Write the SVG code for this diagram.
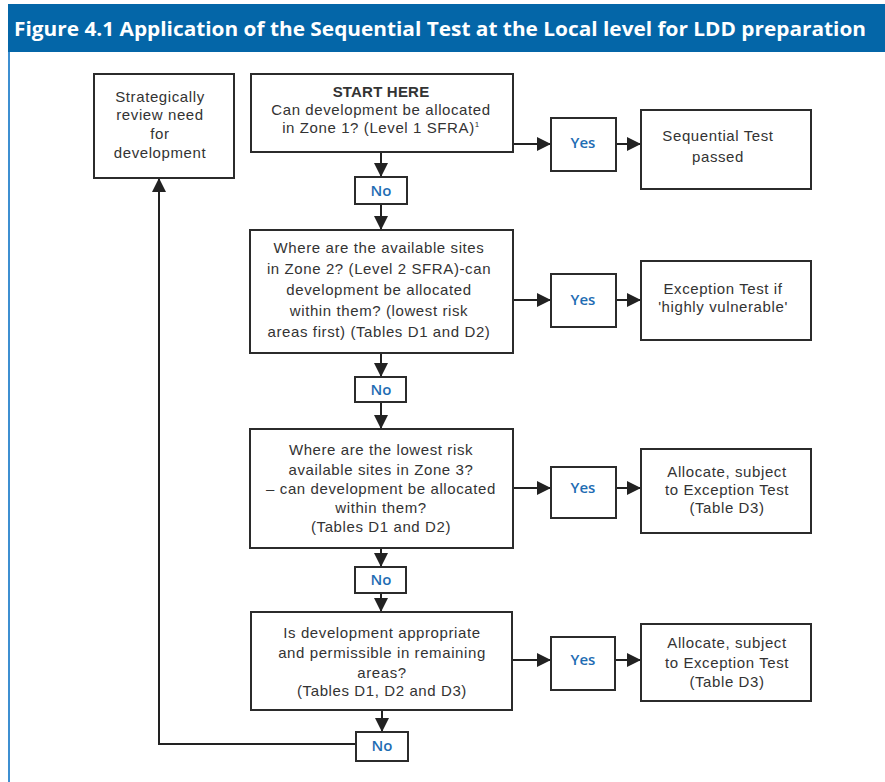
<svg xmlns="http://www.w3.org/2000/svg" width="885" height="782" viewBox="0 0 885 782">
<defs>
<marker id="ah" viewBox="0 0 14 14" refX="14" refY="7" markerWidth="14" markerHeight="14" markerUnits="userSpaceOnUse" orient="auto">
<path d="M0,0 L14,7 L0,14 z" fill="#222"/>
</marker>
<style>
.box{fill:#fff;stroke:#2b2b2b;stroke-width:2}
.t{font-family:"Liberation Sans",Arial,sans-serif;font-size:15px;letter-spacing:0.6px;fill:#333;text-anchor:middle}
.b{font-weight:bold;letter-spacing:0.2px}
.yn{font-family:"Open Sans","Liberation Sans",sans-serif;font-size:15px;font-weight:600;fill:#1f6db3;text-anchor:middle}
.c{fill:none;stroke:#222;stroke-width:2}
</style>
</defs>
<rect x="0" y="0" width="885" height="782" fill="#fff"/>
<g id="frame">
<rect x="8" y="4" width="877" height="48" fill="#0466a8"/>
<line x1="9" y1="52" x2="9" y2="782" stroke="#3d8fd1" stroke-width="2"/>
<text x="14" y="36" font-family="Open Sans, Liberation Sans, sans-serif" font-size="20" font-weight="bold" fill="#fff" textLength="852" lengthAdjust="spacingAndGlyphs">Figure 4.1  Application of the Sequential Test at the Local level for LDD preparation</text>
</g>
<g id="connectors">
<line class="c" x1="381" y1="152" x2="381" y2="177" marker-end="url(#ah)"/>
<line class="c" x1="381" y1="204" x2="381" y2="230" marker-end="url(#ah)"/>
<line class="c" x1="381" y1="353" x2="381" y2="377" marker-end="url(#ah)"/>
<line class="c" x1="381" y1="402" x2="381" y2="429" marker-end="url(#ah)"/>
<line class="c" x1="381" y1="548" x2="381" y2="567" marker-end="url(#ah)"/>
<line class="c" x1="381" y1="593" x2="381" y2="612" marker-end="url(#ah)"/>
<line class="c" x1="382" y1="710" x2="382" y2="732" marker-end="url(#ah)"/>
<polyline class="c" points="356,744 159,744 159,178" marker-end="url(#ah)"/>
<line class="c" x1="513" y1="144" x2="551" y2="144" marker-end="url(#ah)"/>
<line class="c" x1="616" y1="144" x2="641" y2="144" marker-end="url(#ah)"/>
<line class="c" x1="513" y1="300" x2="551" y2="300" marker-end="url(#ah)"/>
<line class="c" x1="616" y1="300" x2="641" y2="300" marker-end="url(#ah)"/>
<line class="c" x1="513" y1="488" x2="551" y2="488" marker-end="url(#ah)"/>
<line class="c" x1="616" y1="488" x2="641" y2="488" marker-end="url(#ah)"/>
<line class="c" x1="512" y1="660" x2="551" y2="660" marker-end="url(#ah)"/>
<line class="c" x1="615" y1="660" x2="641" y2="660" marker-end="url(#ah)"/>
</g>
<g id="review">
<rect class="box" x="94" y="74" width="140" height="104"/>
<text class="t" x="160" y="102">Strategically</text>
<text class="t" x="160" y="120">review need</text>
<text class="t" x="160" y="139">for</text>
<text class="t" x="160" y="158">development</text>
</g>
<g id="start">
<rect class="box" x="251" y="74" width="262" height="78"/>
<text class="t b" x="381" y="97">START HERE</text>
<text class="t" x="381" y="115">Can development be allocated</text>
<text class="t" x="381" y="133">in Zone 1? (Level 1 SFRA)<tspan font-size="8" dy="-6">1</tspan></text>
</g>
<g id="no1">
<rect class="box" x="355" y="177" width="52" height="27"/>
<text class="yn" x="381" y="196">No</text>
</g>
<g id="zone2">
<rect class="box" x="250" y="230" width="263" height="123"/>
<text class="t" x="379" y="253">Where are the available sites</text>
<text class="t" x="379" y="274">in Zone 2? (Level 2 SFRA)-can</text>
<text class="t" x="379" y="295">development be allocated</text>
<text class="t" x="379" y="316">within them? (lowest risk</text>
<text class="t" x="379" y="337">areas first) (Tables D1 and D2)</text>
</g>
<g id="no2">
<rect class="box" x="355" y="377" width="51" height="25"/>
<text class="yn" x="381" y="395">No</text>
</g>
<g id="zone3">
<rect class="box" x="250" y="429" width="263" height="119"/>
<text class="t" x="381" y="455">Where are the lowest risk</text>
<text class="t" x="381" y="475">available sites in Zone 3?</text>
<text class="t" x="381" y="494">– can development be allocated</text>
<text class="t" x="381" y="513">within them?</text>
<text class="t" x="381" y="532">(Tables D1 and D2)</text>
</g>
<g id="no3">
<rect class="box" x="355" y="567" width="51" height="26"/>
<text class="yn" x="381" y="585">No</text>
</g>
<g id="remaining">
<rect class="box" x="251" y="612" width="261" height="98"/>
<text class="t" x="382" y="638">Is development appropriate</text>
<text class="t" x="382" y="658">and permissible in remaining</text>
<text class="t" x="382" y="678">areas?</text>
<text class="t" x="382" y="696">(Tables D1, D2 and D3)</text>
</g>
<g id="no4">
<rect class="box" x="356" y="732" width="52" height="29"/>
<text class="yn" x="382" y="751">No</text>
</g>
<g id="yes1">
<rect class="box" x="551" y="118" width="65" height="53"/>
<text class="yn" x="583" y="148">Yes</text>
</g>
<g id="passed">
<rect class="box" x="641" y="110" width="170" height="79"/>
<text class="t" x="718" y="141">Sequential Test</text>
<text class="t" x="718" y="162">passed</text>
</g>
<g id="yes2">
<rect class="box" x="551" y="274" width="65" height="53"/>
<text class="yn" x="583" y="305">Yes</text>
</g>
<g id="exception">
<rect class="box" x="641" y="261" width="170" height="79"/>
<text class="t" x="723" y="294">Exception Test if</text>
<text class="t" x="723" y="312">'highly vulnerable'</text>
</g>
<g id="yes3">
<rect class="box" x="551" y="467" width="65" height="51"/>
<text class="yn" x="583" y="493">Yes</text>
</g>
<g id="allocate3">
<rect class="box" x="641" y="449" width="170" height="84"/>
<text class="t" x="727" y="477">Allocate, subject</text>
<text class="t" x="727" y="495">to Exception Test</text>
<text class="t" x="727" y="513">(Table D3)</text>
</g>
<g id="yes4">
<rect class="box" x="551" y="637" width="64" height="53"/>
<text class="yn" x="583" y="665">Yes</text>
</g>
<g id="allocate4">
<rect class="box" x="641" y="624" width="170" height="77"/>
<text class="t" x="727" y="648">Allocate, subject</text>
<text class="t" x="727" y="668">to Exception Test</text>
<text class="t" x="727" y="687">(Table D3)</text>
</g>
</svg>
